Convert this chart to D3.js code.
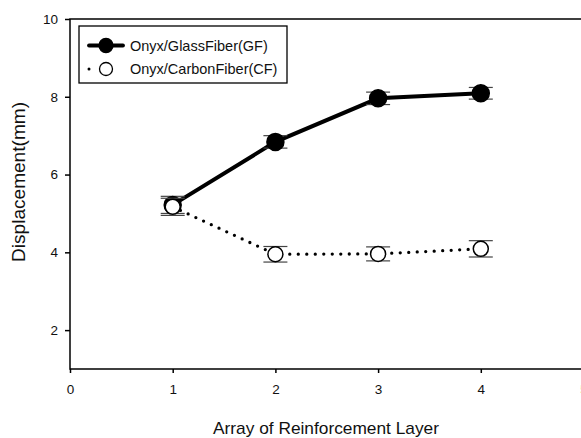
<!DOCTYPE html>
<html>
<head>
<meta charset="utf-8">
<script src="https://cdn.jsdelivr.net/npm/d3@7"></script>
<style>
  html, body { margin: 0; padding: 0; background: #fff; }
  svg { display: block; font-family: Arial, "Liberation Sans", sans-serif; }
</style>
</head>
<body>
<svg id="chart" width="581" height="438"></svg>
<script>
// Reinforcement layer arrangement (x) and measured displacement (mm)
const layers = [1, 2, 3, 4];
const gfMean = [5.22, 6.84, 7.96, 8.09];
const gfErr  = [0.22, 0.16, 0.16, 0.15];
const cfMean = [5.17, 3.95, 3.96, 4.09];
const cfErr  = [0.22, 0.20, 0.18, 0.21];
const xTicks = [0, 1, 2, 3, 4, 5];
const yTicks = [2, 4, 6, 8, 10];
const seriesNames = ["Onyx/GlassFiber(GF)", "Onyx/CarbonFiber(CF)"];

const svg = d3.select("#chart");
const plotLeft = 70, plotTop = 19, plotBottom = 369, plotRight = 583.5;

const x = d3.scaleLinear().domain([0, 5]).range([plotLeft, plotRight]);
const y = d3.scaleLinear().domain([1, 10]).range([plotBottom, plotTop]);

// Axes
const xAxis = svg.append("g")
  .attr("transform", `translate(0,${plotBottom})`)
  .call(d3.axisBottom(x).tickValues(xTicks).tickSize(4).tickPadding(11).tickFormat(d3.format("d")));
const yAxis = svg.append("g")
  .attr("transform", `translate(${plotLeft},0)`)
  .call(d3.axisLeft(y).tickValues(yTicks).tickSize(5).tickPadding(7).tickFormat(d3.format("d")));

[xAxis, yAxis].forEach(g => {
  g.select(".domain").remove();
  g.selectAll(".tick line").attr("stroke", "#000").attr("stroke-width", 1.5);
  g.selectAll(".tick text").attr("font-size", 13.5).attr("fill", "#111")
    .attr("font-family", "Arial, 'Liberation Sans', sans-serif");
});
xAxis.selectAll(".tick").filter(d => d === 5).select("text").attr("fill", "#e8832a");

// Frame lines: left, bottom, top
svg.append("path")
  .attr("d", `M${581},${plotTop}H${plotLeft}V${plotBottom}H${581}`)
  .attr("fill", "none").attr("stroke", "#000").attr("stroke-width", 1.5);

// Axis titles
svg.append("text")
  .attr("x", 326).attr("y", 434)
  .attr("text-anchor", "middle").attr("font-size", 17).attr("fill", "#111")
  .attr("textLength", 226).attr("lengthAdjust", "spacingAndGlyphs")
  .text("Array of Reinforcement Layer");
svg.append("text")
  .attr("transform", `translate(25,182) rotate(-90)`)
  .attr("text-anchor", "middle").attr("font-size", 17.5).attr("fill", "#111")
  .attr("textLength", 160).attr("lengthAdjust", "spacingAndGlyphs")
  .text("Displacement(mm)");

const line = d3.line().x(d => x(d[0])).y(d => y(d[1]));

function drawSeries(means, errs, filled) {
  const pts = layers.map((l, i) => [l, means[i], errs[i]]);
  const g = svg.append("g");
  g.append("path")
    .datum(pts)
    .attr("d", line)
    .attr("fill", "none")
    .attr("stroke", "#000")
    .attr("stroke-width", filled ? 4 : 3.3)
    .attr("stroke-linecap", "round")
    .attr("stroke-dasharray", filled ? null : "0 8.5");
  const eb = g.selectAll(".eb").data(pts).enter().append("g");
  eb.append("line")
    .attr("x1", d => x(d[0])).attr("x2", d => x(d[0]))
    .attr("y1", d => y(d[1] - d[2])).attr("y2", d => y(d[1] + d[2]))
    .attr("stroke", "#333").attr("stroke-width", 1);
  [-1, 1].forEach(s => {
    eb.append("line")
      .attr("x1", d => x(d[0]) - 12).attr("x2", d => x(d[0]) + 12)
      .attr("y1", d => y(d[1] + s * d[2])).attr("y2", d => y(d[1] + s * d[2]))
      .attr("stroke", "#444").attr("stroke-width", 1.2);
  });
  g.selectAll("circle").data(pts).enter().append("circle")
    .attr("cx", d => x(d[0])).attr("cy", d => y(d[1]))
    .attr("r", filled ? 8.5 : 7.5)
    .attr("fill", filled ? "#000" : "#fff")
    .attr("stroke", "#000").attr("stroke-width", 1.5);
}

drawSeries(gfMean, gfErr, true);
drawSeries(cfMean, cfErr, false);

// Legend
const lg = svg.append("g");
lg.append("rect").attr("x", 79).attr("y", 26).attr("width", 208).attr("height", 57)
  .attr("fill", "#fff").attr("stroke", "#000").attr("stroke-width", 1.3);
const rows = [45.5, 69];
seriesNames.forEach((name, i) => {
  const ry = rows[i];
  const filled = i === 0;
  lg.append("line").attr("x1", 89).attr("x2", 123).attr("y1", ry).attr("y2", ry)
    .attr("stroke", "#000").attr("stroke-width", filled ? 3.8 : 3)
    .attr("stroke-linecap", "round")
    .attr("stroke-dasharray", filled ? null : "0 17");
  lg.append("circle").attr("cx", 106).attr("cy", ry)
    .attr("r", filled ? 7 : 6.5)
    .attr("fill", filled ? "#000" : "#fff")
    .attr("stroke", "#000").attr("stroke-width", 1.3);
  lg.append("text").attr("x", 130).attr("y", ry + 5)
    .attr("font-size", 14.5).attr("fill", "#111").text(name);
});
</script>
</body>
</html>
